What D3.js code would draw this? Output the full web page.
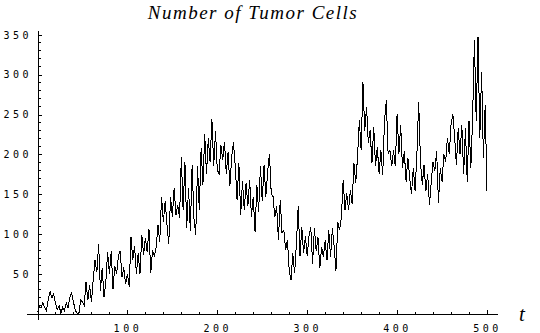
<!DOCTYPE html>
<html>
<head>
<meta charset="utf-8">
<script src="https://cdn.jsdelivr.net/npm/d3@7"></script>
<style>
  body { margin: 0; background: #fff; }
  .ejes text { font-family: "DejaVu Sans Mono", monospace; font-size: 10px; letter-spacing: 3.5px; fill: #000; }
  .ejes line { stroke: #000; shape-rendering: crispEdges; }
  .titulo { font-family: "Liberation Serif", "DejaVu Serif", serif; font-style: italic; }
</style>
</head>
<body>
<div id="graf"></div>
<script>
// Datos: número de células, una muestra cada 2 unidades de t
const tStep = 2;
const cells = [
  2, 9, 8, 14, 8, 4, 18, 28, 20, 25, 13, 5, 10, 1, 8, 4, 14, 7, 21, 26,
  15, 4, 1, 0, 17, 15, 11, 40, 17, 36, 15, 43, 68, 52, 87, 29, 58, 21, 40, 77,
  50, 79, 31, 60, 50, 73, 79, 46, 58, 37, 50, 34, 96, 68, 85, 50, 76, 50,
  99, 74, 95, 78, 106, 51, 80, 72, 83, 112, 90, 147, 115, 141, 112, 88, 147, 122,
  158, 124, 137, 120, 197, 130, 191, 108, 158, 104, 187, 120, 99, 185, 130, 208,
  162, 225, 175, 220, 190, 245, 185, 229, 180,
  176, 212, 193, 216, 176, 203, 160, 197, 215, 185, 143, 189, 124, 166, 130, 164,
  135, 168, 122, 147, 103, 162, 128, 185, 141, 187, 147, 178, 201, 151, 147, 122,
  135, 93, 143, 101, 105, 80, 93, 55, 42, 76, 51, 89, 135, 72, 109, 76, 97, 72, 97,
  109, 63, 107, 79, 96, 57, 84, 71, 92, 67, 105, 71, 107, 84, 54, 115, 105, 121,
  168, 130, 151, 130, 155, 138, 189, 164, 197, 243, 205, 291, 230, 260, 214, 230,
  189, 235, 185, 209, 176, 205, 174, 243, 268, 201, 205, 185, 205, 185, 251, 201,
  237, 183, 204, 166, 196, 171, 150, 183, 154, 200, 266, 191, 162, 187, 154, 175,
  137, 166, 191, 179, 204, 139, 183, 166, 200, 191, 221, 200, 237, 251, 221, 187,
  233, 200, 237, 175, 233, 166, 242, 183, 246, 344, 242, 347, 221, 304, 196, 262, 154
];

const yTicks = [50, 100, 150, 200, 250, 300, 350];
const xTicks = [100, 200, 300, 400, 500];
const yMinor = d3.range(10, 351, 10).filter((v) => v % 50 !== 0);
const xMinor = d3.range(20, 501, 20).filter((v) => v % 100 !== 0);

const ancho_total = 540;
const alto_total = 333;

const svg = d3
  .select("#graf")
  .append("svg")
  .attr("width", ancho_total)
  .attr("height", alto_total);

// Escaladores
const x = d3.scaleLinear().domain([0, 500]).range([37.5, 487]);
const y = d3.scaleLinear().domain([0, 350]).range([313.8, 34.9]);

// Ejes
const xAxis = svg
  .append("g")
  .attr("class", "ejes")
  .attr("transform", `translate(0, ${Math.round(y(0))})`)
  .call(d3.axisBottom(x).tickValues(xTicks).tickSizeInner(-4).tickSizeOuter(0).tickPadding(11));
xAxis
  .selectAll(".minor")
  .data(xMinor)
  .enter()
  .append("line")
  .attr("x1", (d) => x(d))
  .attr("x2", (d) => x(d))
  .attr("y1", 0)
  .attr("y2", -2.5);
xAxis.select(".domain").remove();
xAxis
  .append("line")
  .attr("x1", x(-11.5))
  .attr("x2", x(512))
  .attr("y1", 0)
  .attr("y2", 0);

const yAxis = svg
  .append("g")
  .attr("class", "ejes")
  .attr("transform", `translate(${Math.round(x(0))}, 0)`)
  .call(d3.axisLeft(y).tickValues(yTicks).tickSizeInner(-4).tickSizeOuter(0).tickPadding(6));
yAxis
  .selectAll(".minor")
  .data(yMinor)
  .enter()
  .append("line")
  .attr("x1", 0)
  .attr("x2", 2.5)
  .attr("y1", (d) => y(d))
  .attr("y2", (d) => y(d));
yAxis.select(".domain").remove();
yAxis
  .append("line")
  .attr("x1", 0)
  .attr("x2", 0)
  .attr("y1", y(-8))
  .attr("y2", y(355));

// Línea
const lineaGen = d3
  .line()
  .x((d, i) => x(i * tStep))
  .y((d) => y(d));
svg
  .append("path")
  .attr("fill", "none")
  .attr("stroke", "#000")
  .attr("stroke-width", 1)
  .style("shape-rendering", "crispEdges")
  .attr("d", lineaGen(cells));

// Título y etiqueta del eje
svg
  .append("text")
  .attr("class", "titulo")
  .attr("x", 253)
  .attr("y", 18.5)
  .attr("text-anchor", "middle")
  .style("font-size", "19px")
  .style("letter-spacing", "1.5px")
  .text("Number of Tumor Cells");

svg
  .append("text")
  .attr("class", "titulo")
  .attr("x", 519)
  .attr("y", 321)
  .style("font-size", "21px")
  .text("t");
</script>
</body>
</html>
